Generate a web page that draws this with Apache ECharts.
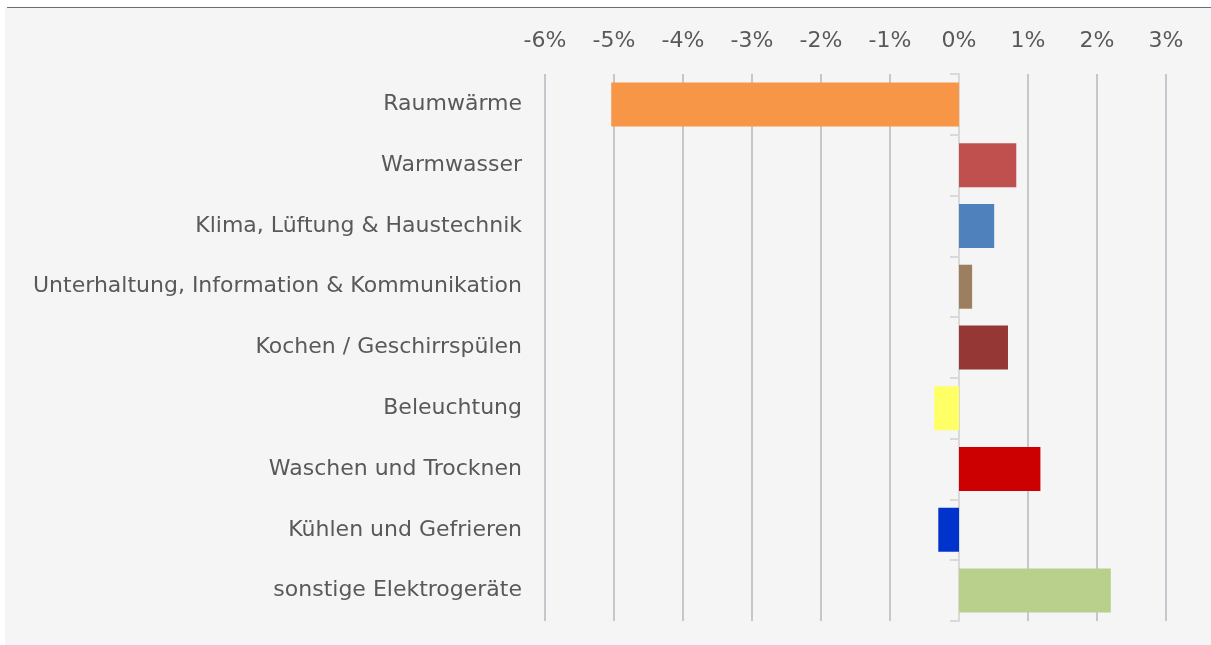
<!DOCTYPE html>
<html>
<head>
<meta charset="utf-8">
<script src="https://cdn.jsdelivr.net/npm/echarts@6/dist/echarts.min.js"></script>
<style>
html,body{margin:0;padding:0;background:#fff;}
#chart{width:1211px;height:645px;}
</style>
</head>
<body>
<div id="chart"></div>
<script>
const categories = ['Raumwärme','Warmwasser','Klima, Lüftung & Haustechnik','Unterhaltung, Information & Kommunikation','Kochen / Geschirrspülen','Beleuchtung','Waschen und Trocknen','Kühlen und Gefrieren','sonstige Elektrogeräte'];
const values = [-5.04, 0.83, 0.51, 0.19, 0.71, -0.36, 1.18, -0.30, 2.20];
const barColors = ['#F79646','#C0504D','#4F81BD','#9C7F5F','#953735','#FFFF66','#CC0000','#0033CC','#B9D08D'];
const xTicks = [-6,-5,-4,-3,-2,-1,0,1,2,3];

const chart = echarts.init(document.getElementById('chart'), null, {renderer:'canvas'});
const font = 'DejaVu Sans';
chart.setOption({
  backgroundColor:'#ffffff',
  animation:false,
  graphic:[
    {type:'rect', shape:{x:5,y:8,width:1206,height:637}, style:{fill:'#f5f5f5'}, z:-10},
    {type:'line', shape:{x1:7,y1:7.5,x2:1211,y2:7.5}, style:{stroke:'#66707b',lineWidth:1.2}, z:-9}
  ],
  grid:{left:545,right:45,top:74,bottom:24,containLabel:false,outerBoundsMode:'none'},
  xAxis:{
    type:'value', position:'top',
    min:xTicks[0], max:xTicks[xTicks.length-1], interval:1,
    axisLine:{show:false}, axisTick:{show:false},
    axisLabel:{formatter:v=>v+'%', color:'#595959', fontFamily:font, fontSize:22, margin:22},
    splitLine:{show:true, lineStyle:{color:'#c4c8cc', width:2}}
  },
  yAxis:{
    type:'category', inverse:true, data:categories,
    axisLine:{show:true, onZero:true, lineStyle:{color:'#d9d9d9', width:2}},
    axisTick:{show:true, length:9, lineStyle:{color:'#d9d9d9', width:2}},
    axisLabel:{color:'#595959', fontFamily:font, fontSize:22, margin:23},
    splitLine:{show:false}
  },
  series:[{
    type:'bar',
    barWidth:44,
    data: values.map((v,i)=>({value:v, itemStyle:{color:barColors[i]}})),
    z:3
  }]
});
</script>
</body>
</html>
